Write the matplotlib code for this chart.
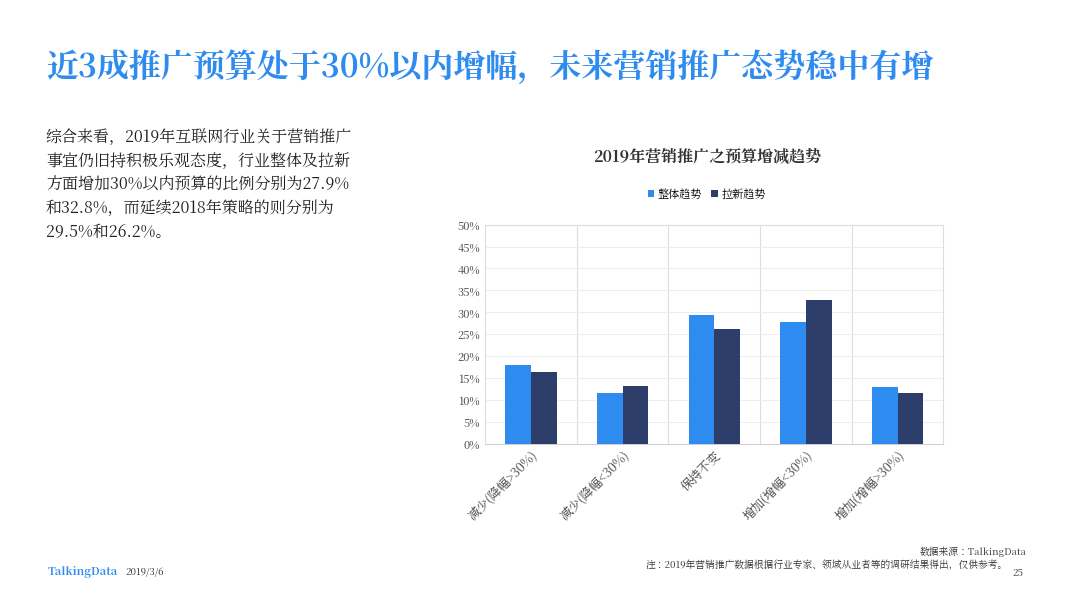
import numpy as np
import matplotlib.pyplot as plt
from matplotlib import font_manager

cjk = [f.name for f in font_manager.fontManager.ttflist if 'CJK' in f.name]
cjk_name = 'Noto Sans CJK SC' if 'Noto Sans CJK SC' in cjk else (cjk[0] if cjk else 'DejaVu Sans')
plt.rcParams['font.family'] = [cjk_name, 'DejaVu Sans']

categories = ['减少(降幅>30%)', '减少(降幅<30%)', '保持不变', '增加(增幅<30%)', '增加(增幅>30%)']
overall = [18.0, 11.5, 29.5, 27.9, 13.0]
new_cust = [16.4, 13.1, 26.2, 32.8, 11.5]
series_names = ['整体趋势', '拉新趋势']
yticks = [0, 5, 10, 15, 20, 25, 30, 35, 40, 45, 50]

fig = plt.figure(figsize=(10.66, 5.99), dpi=100)
fig.patch.set_facecolor('white')

fig.text(0.043, 0.872, '近3成推广预算处于30%以内增幅，未来营销推广态势稳中有增',
         fontsize=23, fontweight='bold', color='#2E8BEF')

body = ('综合来看，2019年互联网行业关于营销推广\n事宜仍旧持积极乐观态度，行业整体及拉新\n'
        '方面增加30%以内预算的比例分别为27.9%\n和32.8%，而延续2018年策略的则分别为\n29.5%和26.2%。')
fig.text(0.043, 0.785, body, fontsize=11.5, color='#222222', va='top', linespacing=1.45)

fig.text(0.663, 0.73, '2019年营销推广之预算增减趋势', fontsize=11.5, fontweight='bold',
         color='#333333', ha='center')

ax = fig.add_axes([0.455, 0.259, 0.43, 0.366])
x = np.arange(len(categories))
w = 0.28
b1 = ax.bar(x - w / 2, overall, w, color='#2E8BEF', label=series_names[0], zorder=3)
b2 = ax.bar(x + w / 2, new_cust, w, color='#2D3E6B', label=series_names[1], zorder=3)
ax.set_xlim(-0.5, len(categories) - 0.5)
ax.set_ylim(0, 50)
ax.set_yticks(yticks)
ax.set_yticklabels([f'{v}%' for v in yticks], fontsize=8, color='#444444')
ax.set_xticks(x)
ax.set_xticklabels(categories, rotation=45, ha='right', rotation_mode='anchor',
                   fontsize=9, color='#444444')
ax.tick_params(length=0)
ax.grid(axis='y', color='#EEEEEE', linewidth=0.8, zorder=0)
for b in np.arange(0.5, len(categories) - 0.5):
    ax.axvline(b, color='#DDDDDD', linewidth=0.8, zorder=0)
for s in ax.spines.values():
    s.set_color('#DDDDDD')
ax.spines['bottom'].set_color('#D0D0D0')

fig.legend(handles=[b1, b2], loc='center', bbox_to_anchor=(0.663, 0.675), ncol=2,
           frameon=False, fontsize=8, handlelength=0.6, handleheight=0.6,
           columnspacing=0.8, handletextpad=0.3)

fig.text(0.045, 0.04, 'TalkingData', fontsize=8, color='#2E8BEF', fontweight='bold')
fig.text(0.118, 0.04, '2019/3/6', fontsize=7, color='#333333')
fig.text(0.963, 0.073, '数据来源：TalkingData', fontsize=7, style='italic', color='#333333', ha='right')
fig.text(0.945, 0.052, '注：2019年营销推广数据根据行业专家、领域从业者等的调研结果得出，仅供参考。',
         fontsize=7, style='italic', color='#333333', ha='right')
fig.text(0.96, 0.038, '25', fontsize=7, color='#333333', ha='right')

fig.savefig('out.png', dpi=100)
